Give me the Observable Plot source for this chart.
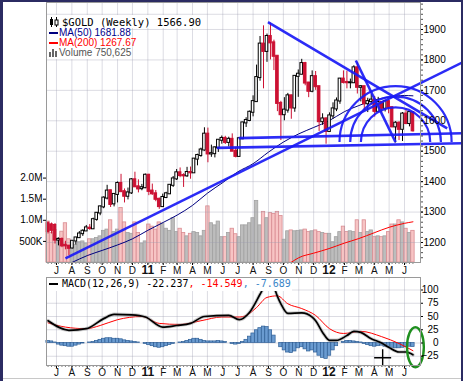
<!DOCTYPE html>
<html><head><meta charset="utf-8">
<script src="https://cdn.jsdelivr.net/npm/d3@7"></script>
<script src="https://cdn.jsdelivr.net/npm/@observablehq/plot@0.6"></script>
<style>
html,body{margin:0;padding:0;background:#fff;}
#wrap{position:relative;width:463px;height:381px;overflow:hidden;background:#fff;}
#wrap svg{position:absolute;left:0;top:0;}
.abs{position:absolute;}
.txt{position:absolute;white-space:nowrap;line-height:12px;height:12px;}
.mono{font-family:"DejaVu Sans Mono",monospace;}
.sans{font-family:"Liberation Sans",Arial,sans-serif;}
</style></head><body>
<div id="wrap"></div>
<script>
// ---------------- DATA ----------------
const weeks = d3.utcMonday.range(new Date("2010-06-14T00:00Z"), new Date("2012-06-19T00:00Z"));
const open = [1262,1258,1256,1208,1210,1191,1188,1182,1205,1216,
1229,1238,1247,1245,1276,1297,1317,1346,1370,1327,
1358,1394,1367,1352,1363,1406,1383,1377,1380,1421,
1369,1360,1342,1318,1348,1360,1388,1409,1429,1420,
1419,1430,1429,1474,1486,1504,1556,1491,1492,1511,
1536,1542,1529,1539,1500,1483,1541,1593,1601,1628,
1663,1742,1852,1828,1877,1856,1812,1657,1620,1635,
1682,1642,1746,1753,1788,1724,1697,1745,1712,1597,
1606,1565,1616,1639,1665,1737,1726,1725,1725,1774,
1710,1712,1656,1663,1668,1631,1660,1641,1663,1643,
1580,1592,1572,1622,1591,1627];
const high = [1268,1264,1262,1215,1215,1204,1190,1206,1216,1236,
1242,1256,1259,1280,1298,1320,1350,1388,1372,1360,
1399,1424,1376,1379,1410,1431,1406,1391,1425,1424,
1392,1371,1346,1359,1365,1390,1417,1440,1445,1426,
1447,1448,1476,1490,1510,1577,1576,1520,1514,1538,
1550,1549,1546,1557,1513,1544,1595,1610,1632,1682,
1783,1877,1912,1885,1921,1865,1812,1664,1676,1690,
1684,1748,1767,1802,1792,1726,1764,1762,1712,1623,
1610,1626,1659,1675,1739,1764,1763,1737,1781,1792,
1715,1713,1674,1687,1680,1677,1660,1665,1669,1646,
1597,1597,1627,1640,1630,1628];
const low = [1228,1228,1195,1189,1183,1176,1157,1179,1192,1213,
1220,1237,1240,1243,1270,1288,1311,1340,1315,1317,
1330,1365,1330,1340,1358,1381,1363,1370,1377,1354,
1355,1334,1309,1317,1344,1358,1381,1404,1413,1381,
1414,1408,1428,1452,1480,1500,1462,1480,1478,1496,
1523,1522,1514,1500,1478,1481,1538,1578,1597,1613,
1663,1730,1705,1792,1800,1765,1630,1535,1600,1625,
1605,1628,1677,1751,1715,1676,1692,1700,1565,1585,
1523,1562,1605,1630,1654,1721,1705,1705,1724,1688,
1662,1635,1627,1652,1612,1627,1626,1629,1623,1577,
1527,1535,1532,1587,1580,1563];
const close = [1236,1240,1208,1210,1189,1189,1181,1204,1215,1228,
1237,1248,1246,1275,1296,1317,1346,1369,1325,1358,
1394,1367,1352,1363,1406,1383,1376,1380,1421,1368,
1360,1342,1318,1348,1360,1388,1409,1429,1420,1419,
1430,1429,1474,1486,1504,1556,1491,1492,1511,1536,
1542,1529,1539,1500,1483,1541,1593,1601,1628,1663,
1742,1852,1828,1877,1856,1812,1657,1620,1635,1682,
1642,1746,1753,1788,1724,1697,1745,1712,1597,1606,
1565,1616,1639,1665,1737,1726,1725,1725,1774,1710,
1712,1656,1663,1668,1631,1660,1641,1663,1643,1580,
1592,1572,1622,1591,1627,1566.9];
// weekly volume, millions
const volume = [.97,.70,.77,.57,.73,.93,.55,.45,.42,.48,
.50,.45,.55,.55,.58,.62,.75,.78,1.0,.72,
.78,1.29,.95,.70,.68,.95,.70,.45,.50,.90,
.85,.78,.95,.92,.80,.75,1.05,.72,.80,.70,
.62,.68,.72,.70,.62,.75,1.33,.93,.88,.97,
.60,.60,.70,.80,.67,.60,.88,.88,.93,1.05,
1.46,.88,1.20,1.05,1.17,1.15,1.20,1.10,.54,.74,
.76,.74,.75,.76,.78,.72,.74,.76,.72,.70,
.68,.68,.48,.60,.72,.85,.72,.74,.72,1.0,
.70,1.0,.72,.76,.60,.62,.60,.62,.72,.90,
.90,1.0,.95,.80,.70,.75];
const ma50Dates = ["2010-08-02","2010-09-01","2010-10-01","2010-11-01","2010-12-01","2011-01-01","2011-02-01","2011-03-01","2011-04-01","2011-05-01","2011-06-01","2011-07-01","2011-08-01","2011-09-01","2011-10-01","2011-11-01","2011-12-01","2012-01-01","2012-02-01","2012-03-01","2012-04-01","2012-05-01","2012-06-01","2012-06-18"];
const ma50 = [1135,1157,1174,1192,1212,1240,1266,1290,1322,1362,1397,1432,1459,1497,1530,1557,1578,1600,1630,1650,1668,1678,1683,1682];
const ma200Dates = ["2011-10-17","2011-11-01","2011-12-01","2012-01-01","2012-02-01","2012-03-01","2012-04-01","2012-05-01","2012-06-01","2012-06-18"];
const ma200 = [1135,1150,1165,1180,1198,1213,1232,1250,1263,1268];
// MACD line / signal, sampled at week indices
const macdIdx = [0,6,11,16,19,24,28,33,37,41,45,52,55,58,61,62,63,64,65,66,67,69,73,76,77,79,81,83,86,88,90,93,96,98,101,103,105];
const macdVal = [42,24,27,46,54,53,49,30,33,37,50,52,44,58,92,104,114,117,106,88,74,56,57,49,42,20,5,5,14,22,20,8,0,-8,-17,-17,-22.2];
const signalIdx = [0,5,11,15,20,27,32,38,44,50,55,57,60,63,66,69,73,77,81,85,90,96,101,105];
const signalVal = [38,30,27,33,44,50,37,35,42,49,49,52,67,86,89,74,65,52,27,18,22,12,-1,-14.5];
const histogram = [4,3,1,-3,-5,-6,-7,-7,-5,-3,
-1,0,1,2,4,6,8,9,9,8,
8,7,5,4,3,2,1,0,-2,-4,
-6,-8,-9,-8,-6,-4,-2,0,1,2,
4,6,8,8,6,4,3,3,3,4,
3,2,0,-2,-3,-2,2,6,12,18,
24,28,31,30,24,14,0,-8,-14,-18,
-19,-16,-10,-8,-12,-16,-14,-18,-24,-28,
-30,-24,-14,-6,0,2,4,4,3,2,
1,-2,-4,-6,-7,-6,-5,-7,-8,-9,
-10,-10,-9,-8,-7,-7.7];
const priceTicks = [1200,1300,1400,1500,1600,1700,1800,1900];
const priceGrid = [1200,1300,1400,1500,1600,1700,1800,1900,1950];
const volTicks = [0.5,1,1.5,2];
const volLabels = ["500K","1.0M","1.5M","2.0M"];
const macdTicks = [-25,0,25,50,75,100];
const monthLetters = ["J","F","M","A","M","J","J","A","S","O","N","D"];
// drawn annotations (chart-tool trendlines), endpoints in date/price
const trendLines = [
  {x1:"2010-07-19", y1:1148, x2:"2012-09-26", y2:1792},
  {x1:"2011-08-31", y1:1924, x2:"2012-08-26", y2:1575},
  {x1:"2011-07-03", y1:1543, x2:"2012-09-26", y2:1559},
  {x1:"2011-05-20", y1:1511, x2:"2012-09-26", y2:1526},
  {x1:"2012-02-24", y1:1798, x2:"2012-05-14", y2:1530}
];
const fibFrom = {date:"2012-02-24", price:1798};
const fibTo = {date:"2012-05-14", price:1530};
const fibRatios = [0.382, 0.5, 0.618];
const crosshair = {date:"2012-04-18", value:-27.9};
const ellipseNote = {date:"2012-06-23", value:-7.9};

// ---------------- LAYOUT ----------------
const W = 463, H = 381;
const months = d3.utcMonth.range(new Date("2010-07-01T00:00Z"), new Date("2012-07-01T00:00Z"));
const xDomain = [new Date("2010-06-10T20:40Z"), new Date("2012-07-03T05:30Z")];
const priceDomain = [1134.3, 1988.7];
const volDomain = [0, 6.16];
const macdDomain = [-42.45, 123.6];
const RED = "#cc1133", NAVY = "#000080", BLUE = "#1a1af5", GRID = "#9a9aae", FRAME = "#9a9a9a";
const FONT = "Liberation Sans, Arial, sans-serif";
const base = {width: W, height: H, marginLeft: 46, marginRight: 43,
  style: {background: "transparent", fontFamily: FONT, fontSize: "10px", color: "#000", overflow: "visible"},
  color: {type: "identity"}};

const candles = weeks.map((d, i) => ({date: d, o: open[i], h: high[i], l: low[i], c: close[i], v: volume[i], hist: histogram[i], down: close[i] < open[i]}));
const ma50Pts = ma50Dates.map((d, i) => ({d: new Date(d), v: ma50[i]}));
const ma200Pts = ma200Dates.map((d, i) => ({d: new Date(d), v: ma200[i]}));
const macdPts = macdIdx.map((k, i) => ({d: weeks[k], v: macdVal[i]}));
const signalPts = signalIdx.map((k, i) => ({d: weeks[k], v: signalVal[i]}));
const lines = trendLines.map(t => ({x1: new Date(t.x1), y1: t.y1, x2: new Date(t.x2), y2: t.y2}));

// custom symbols
const semicircle = {draw(ctx, size) { const r = Math.sqrt(size / Math.PI); ctx.moveTo(-r, 0); ctx.arc(0, 0, r, Math.PI, 2 * Math.PI); }};
const cross = {draw(ctx, size) { const r = Math.sqrt(size / Math.PI); ctx.moveTo(-r, 0); ctx.lineTo(r, 0); ctx.moveTo(0, -r); ctx.lineTo(0, r); }};
const ellipse = {draw(ctx, size) {
  const ry = Math.sqrt(size / Math.PI), rx = ry * 0.42, k = 0.5523;
  ctx.moveTo(rx, 0);
  ctx.bezierCurveTo(rx, k * ry, k * rx, ry, 0, ry);
  ctx.bezierCurveTo(-k * rx, ry, -rx, k * ry, -rx, 0);
  ctx.bezierCurveTo(-rx, -k * ry, -k * rx, -ry, 0, -ry);
  ctx.bezierCurveTo(k * rx, -ry, rx, -k * ry, rx, 0);
  ctx.closePath();
}};

// fib arc radii from pixel distance through the scales
const xs = Plot.scale({x: {type: "utc", domain: xDomain, range: [46, 420]}});
const ys = Plot.scale({y: {type: "linear", domain: priceDomain, range: [262, 2]}});
const fibDist = Math.hypot(xs.apply(new Date(fibFrom.date)) - xs.apply(new Date(fibTo.date)), ys.apply(fibFrom.price) - ys.apply(fibTo.price));

const monthText = (frameAnchor, dy) => [
  Plot.text(months.filter(d => d.getUTCMonth() !== 0), {x: d => d, text: d => monthLetters[d.getUTCMonth()], frameAnchor, lineAnchor: "top", dy, fontSize: 10, fill: "#111"}),
  Plot.text(months.filter(d => d.getUTCMonth() === 0), {x: d => d, text: d => String(d.getUTCFullYear()).slice(2), frameAnchor, lineAnchor: "top", dy: dy - 1, fontSize: 12, fontWeight: "bold", fill: "#111"})
];

// ---------------- VOLUME (bottom layer) ----------------
const volPlot = Plot.plot({...base, marginTop: 2, marginBottom: 119,
  x: {type: "utc", domain: xDomain, axis: null},
  y: {domain: volDomain, label: null},
  marks: [
    Plot.rect(candles, {x1: "date", x2: "date", y1: 0, y2: "v", insetLeft: -1.7, insetRight: -1.7,
      fill: d => d.down ? "#f7c4c4" : "#bdbdbd", stroke: d => d.down ? "#d98c92" : "#a2a2a2", strokeWidth: 0.8}),
    Plot.axisY({anchor: "left", ticks: volTicks, tickSize: 3, tickPadding: 1, tickFormat: d => volLabels[volTicks.indexOf(d)], fontSize: 10, label: null})
  ]
});

// ---------------- PRICE ----------------
const pricePlot = Plot.plot({...base, marginTop: 2, marginBottom: 119,
  x: {type: "utc", domain: xDomain},
  y: {domain: priceDomain, label: null},
  marks: [
    Plot.gridY({ticks: priceGrid, stroke: GRID, strokeOpacity: 0.35}),
    Plot.gridX({ticks: months, stroke: GRID, strokeOpacity: 0.35}),
    Plot.line(ma200Pts, {x: "d", y: "v", stroke: "#ff0000", strokeWidth: 1, curve: "monotone-x"}),
    Plot.line(ma50Pts, {x: "d", y: "v", stroke: NAVY, strokeWidth: 1, curve: "monotone-x"}),
    Plot.ruleX(candles, {x: "date", y1: "l", y2: "h", stroke: d => d.down ? RED : "#000", strokeWidth: 1}),
    Plot.rect(candles, {x1: "date", x2: "date", y1: "o", y2: "c", insetLeft: -1.3, insetRight: -1.3, insetTop: -0.5, insetBottom: -0.5,
      fill: d => d.down ? RED : "#fff", stroke: d => d.down ? RED : "#000", strokeWidth: 1}),
    Plot.link(lines, {x1: "x1", y1: "y1", x2: "x2", y2: "y2", stroke: BLUE, strokeWidth: 2.6, strokeOpacity: 0.92}),
    ...fibRatios.map(r => Plot.dot([fibTo], {x: d => new Date(d.date), y: "price", r: r * fibDist, symbol: semicircle, fill: "none", stroke: BLUE, strokeWidth: 2.2, strokeOpacity: 0.92})),
    Plot.axisY({anchor: "right", ticks: priceTicks, tickSize: 2, tickPadding: 1, tickFormat: d => String(d), fontSize: 10, label: null}),
    Plot.axisY({anchor: "right", ticks: d3.range(1150, 1990, 100 / 6), tickSize: 2, tickFormat: () => "", label: null, strokeOpacity: 0.7}),
    Plot.axisX({ticks: weeks, tickSize: 2, tickFormat: () => "", label: null, strokeOpacity: 0.5}),
    Plot.axisX({ticks: months, tickSize: 3, tickFormat: () => "", label: null}),
    ...monthText("bottom", 4),
    Plot.frame({stroke: FRAME})
  ]
});

// ---------------- MACD ----------------
const macdPlot = Plot.plot({...base, marginTop: 277, marginBottom: 16,
  x: {type: "utc", domain: xDomain},
  y: {domain: macdDomain, label: null},
  marks: [
    Plot.gridY({ticks: macdTicks, stroke: GRID, strokeOpacity: 0.35}),
    Plot.gridX({ticks: months, stroke: GRID, strokeOpacity: 0.35}),
    Plot.rect(candles, {x1: "date", x2: "date", y1: 0, y2: "hist", insetLeft: -1.7, insetRight: -1.7,
      fill: "#6a9bd0", stroke: "#2f5f96", strokeWidth: 0.7}),
    Plot.line(signalPts, {x: "d", y: "v", stroke: "#ff0000", strokeWidth: 1, curve: "monotone-x"}),
    Plot.line(macdPts, {x: "d", y: "v", stroke: "#888", strokeWidth: 3.6, strokeOpacity: 0.4, curve: "monotone-x"}),
    Plot.line(macdPts, {x: "d", y: "v", stroke: "#000", strokeWidth: 1.7, curve: "monotone-x"}),
    Plot.dot([crosshair], {x: d => new Date(d.date), y: "value", r: 8.5, symbol: cross, fill: "none", stroke: "#000", strokeWidth: 1.4}),
    Plot.dot([ellipseNote], {x: d => new Date(d.date), y: "value", r: 20, symbol: ellipse, fill: "none", stroke: "#1f8f1f", strokeWidth: 2.4}),
    Plot.axisY({anchor: "right", ticks: macdTicks, tickSize: 2, tickPadding: 16, textAnchor: "end", fontSize: 10, label: null}),
    Plot.axisX({ticks: weeks, tickSize: 2, tickFormat: () => "", label: null, strokeOpacity: 0.5}),
    Plot.axisX({ticks: months, tickSize: 3, tickFormat: () => "", label: null}),
    ...monthText("bottom", 3),
    Plot.frame({stroke: FRAME})
  ]
});

const wrap = document.getElementById("wrap");
wrap.append(volPlot, pricePlot, macdPlot);

// ---------------- LEGENDS / FRAME ----------------
const html = `
<div class="abs" style="left:47px;top:15px;width:158px;height:13px;background:#fff"></div>
<div class="abs" style="left:47px;top:28px;width:83px;height:31px;background:#fff"></div>
<svg class="abs" style="left:49px;top:17px" width="10" height="10"><line x1="2.5" y1="0" x2="2.5" y2="10" stroke="#000"/><rect x="1" y="2" width="3" height="6" fill="#000"/><line x1="7.5" y1="0" x2="7.5" y2="10" stroke="#000"/><rect x="6" y="3" width="3" height="5" fill="#fff" stroke="#000" stroke-width="1"/></svg>
<div class="txt mono" style="left:62px;top:16px;font-size:10.5px;color:#000">$GOLD (Weekly) 1566.90</div>
<div class="abs" style="left:49px;top:32px;width:9px;height:2px;background:${NAVY}"></div>
<div class="txt sans" style="left:59px;top:27px;font-size:10px;color:#00008b">MA(50) 1681.88</div>
<div class="abs" style="left:49px;top:42px;width:9px;height:2px;background:#ff0000"></div>
<div class="txt sans" style="left:59px;top:37px;font-size:10px;color:#ff0000">MA(200) 1267.67</div>
<svg class="abs" style="left:49px;top:49px" width="9" height="8"><rect x="0" y="3" width="2" height="5" fill="#666"/><rect x="3" y="0" width="2" height="8" fill="#666"/><rect x="6" y="2" width="2" height="6" fill="#666"/></svg>
<div class="txt sans" style="left:59px;top:47px;font-size:10px;color:#555">Volume 750,625</div>
<div class="abs" style="left:47px;top:278px;width:245px;height:13px;background:#fff"></div>
<div class="abs" style="left:49px;top:283px;width:9px;height:2px;background:#000"></div>
<div class="txt mono" style="left:62px;top:278px;font-size:10px;color:#000">MACD(12,26,9) -22.237<span style="color:#ff0000">, -14.549</span><span style="color:#3a86c8">, -7.689</span></div>
<div class="abs" style="left:0;top:0;width:3px;height:381px;background:#2b2b62"></div>
<div class="abs" style="left:0;top:0;width:463px;height:2px;background:#2b2b62"></div>
<div class="abs" style="left:461px;top:0;width:2px;height:381px;background:#2b2b62"></div>
<div class="abs" style="left:3px;top:378px;width:458px;height:1px;background:#c8c8c8"></div>
`;
wrap.insertAdjacentHTML("beforeend", html);
</script></body></html>
